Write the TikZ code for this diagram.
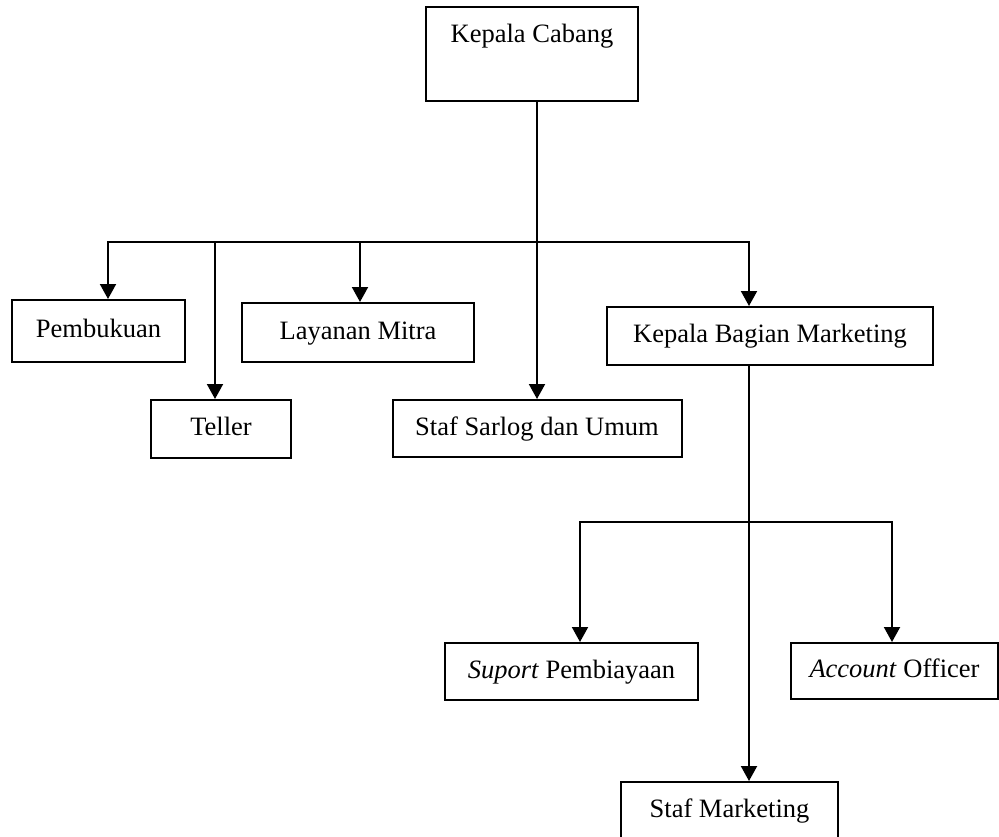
\documentclass[tikz,border=0pt]{standalone}
\usepackage{fontspec}
\setmainfont{Liberation Serif}
\usetikzlibrary{arrows.meta}
\begin{document}
\begin{tikzpicture}[x=1pt,y=-1pt,
  box/.style={draw, line width=2pt, inner sep=0pt, text height=19pt, text depth=6pt,
    font=\fontsize{26.5}{30}\selectfont},
  arr/.style={line width=2pt, -{Triangle[width=16pt,length=15pt]}}]
\useasboundingbox (0,0) rectangle (999,837);
\clip (0,0) rectangle (999,837);
% nodes
\node[draw, line width=2pt, inner sep=0pt, minimum width=212pt, text height=36pt, text depth=58pt,
  font=\fontsize{26.5}{30}\selectfont] (kc) at (532,54) {Kepala Cabang};
\node[box, minimum width=173pt, minimum height=62pt] (pb) at (98.5,331) {Pembukuan};
\node[box, minimum width=232pt, minimum height=59pt] (lm) at (358,332.5) {Layanan Mitra};
\node[box, minimum width=140pt, minimum height=58pt] (te) at (221,429) {Teller};
\node[box, minimum width=289pt, minimum height=57pt] (ss) at (537,428.5) {Staf Sarlog dan Umum};
\node[box, minimum width=326pt, minimum height=58pt] (kbm) at (770,336) {Kepala Bagian Marketing};
\node[box, minimum width=253pt, minimum height=57pt] (sp) at (571.5,671.5) {\textit{Suport} Pembiayaan};
\node[box, minimum width=207pt, minimum height=56pt] (ao) at (894.5,671) {\textit{Account} Officer};
\node[box, minimum width=217pt, minimum height=58pt] (sm) at (729.5,811) {Staf Marketing};
% junction coordinates
\coordinate (busL) at (108,242);
\coordinate (busR) at (749,242);
\coordinate (tJ) at (215,242);
\coordinate (lJ) at (360,242);
\coordinate (b2L) at (580,522);
\coordinate (b2R) at (892,522);
% connectors
\draw[arr] (ss.north |- kc.south) -- (ss.north);
\draw[arr] (busR) -- (busL) -- (busL |- pb.north);
\draw[arr] (busL) -- (busR) -- (busR |- kbm.north);
\draw[arr] (tJ) -- (tJ |- te.north);
\draw[arr] (lJ) -- (lJ |- lm.north);
\draw[arr] (busR |- kbm.south) -- (busR |- sm.north);
\draw[arr] (b2R) -- (b2L) -- (b2L |- sp.north);
\draw[arr] (b2L) -- (b2R) -- (b2R |- ao.north);
\end{tikzpicture}
\end{document}
